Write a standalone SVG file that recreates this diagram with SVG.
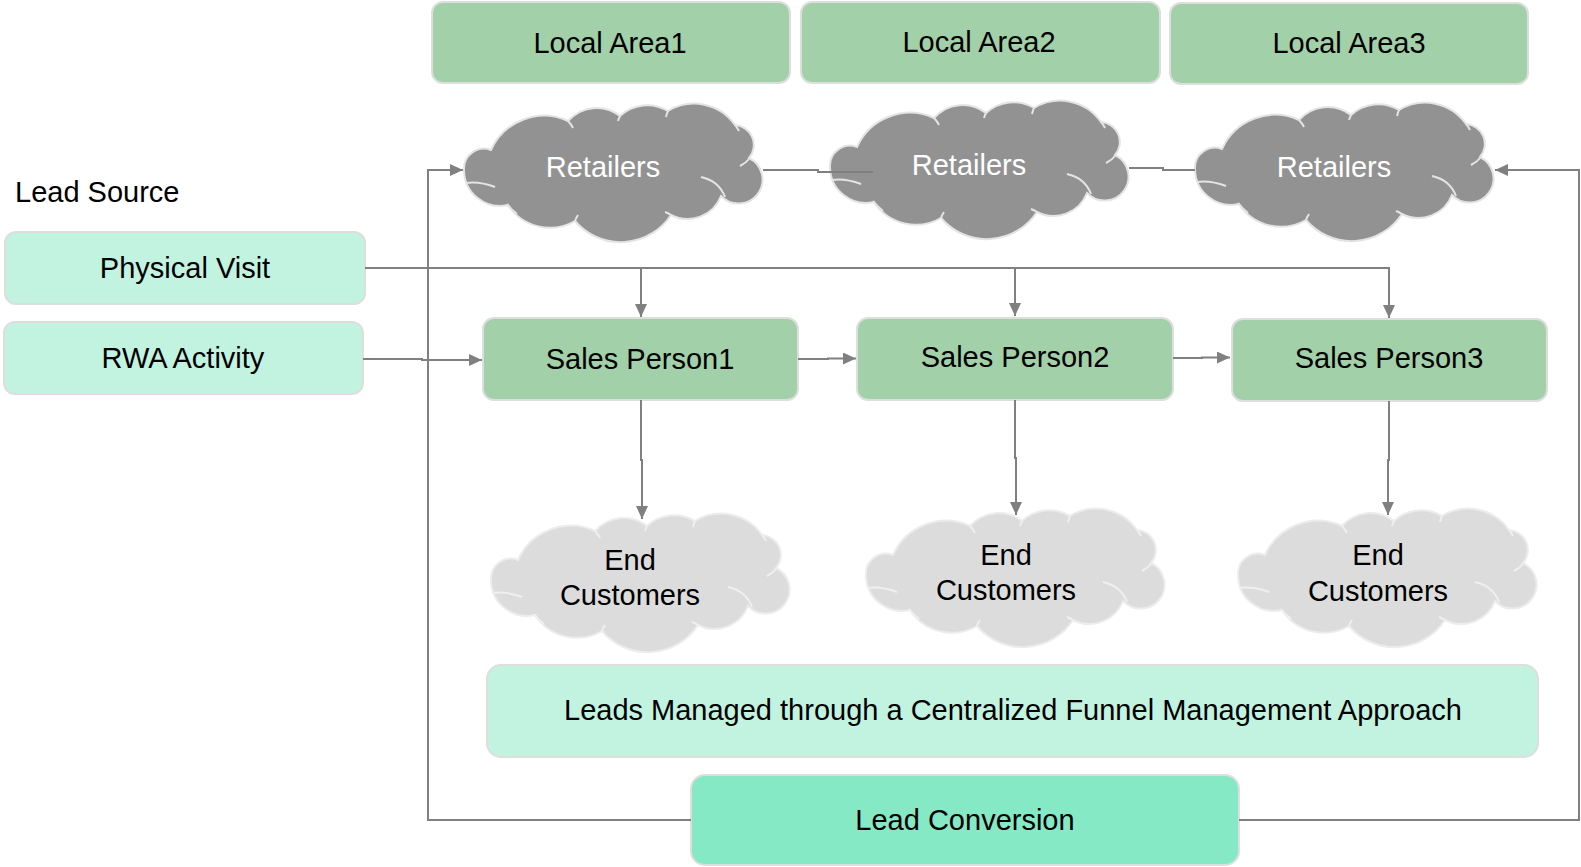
<svg xmlns="http://www.w3.org/2000/svg" width="1581" height="867" viewBox="0 0 1581 867">
<style>
text{font-family:"Liberation Sans",Arial,sans-serif;font-size:29px;fill:#000}
.mid{text-anchor:middle}
.box{stroke:#dedede;stroke-width:2}
.green{fill:#a2d0a9}
.mint{fill:#c2f3e1}
.conv{fill:#86e9c6}
.cd{fill:#929292;stroke:#e4e4e4;stroke-width:2}
.cdi{fill:none;stroke:#e4e4e4;stroke-width:2}
.cl{fill:#dcdcdc;stroke:#ececec;stroke-width:2}
.cli{fill:none;stroke:#efefef;stroke-width:2}
.wt{fill:#fff}
.conn path{fill:none;stroke:#808080;stroke-width:2}
.arrow{marker-end:url(#arr)}
</style>
<defs>
<marker id="arr" markerUnits="userSpaceOnUse" markerWidth="13" markerHeight="12" refX="13" refY="6" orient="auto"><path d="M0,0 L13,6 L0,12 z" fill="#808080"/></marker>
<path id="cloud" d="M1,67 A20,20 0 0 1 28,47 A58,58 0 0 1 105,18 A38,38 0 0 1 157,13 A40,40 0 0 1 205,8 A50,50 0 0 1 272,22 A20,20 0 0 1 286,55 A24,24 0 1 1 258,93 A36,36 0 0 1 208,112 A60,60 0 0 1 112,118 A50,50 0 0 1 45,102 A36,36 0 0 1 1,67 Z"/>
<path id="cloudIn" d="M3,80 Q16,78 32,84 M44,101 Q48,106 54,111 M105,18 Q108,21 110,25 M157,13 Q156,15 155,18 M205,8 Q204,10 203,14 M272,22 Q274,24 276,28 M286,56 Q283,60 277,63 M238,74 Q256,78 262,94 M208,112 Q205,110 202,109 M112,118 Q113,115 115,112"/>
</defs>

<g id="local-area1"><rect class="box green" x="432" y="2" width="358" height="81" rx="11"/><text class="mid" x="610" y="53">Local Area1</text></g>
<g id="local-area2"><rect class="box green" x="801" y="2" width="359" height="81" rx="11"/><text class="mid" x="979" y="52">Local Area2</text></g>
<g id="local-area3"><rect class="box green" x="1170" y="3" width="358" height="81" rx="11"/><text class="mid" x="1349" y="53">Local Area3</text></g>

<g id="retailers1" transform="translate(463,103)"><use href="#cloud" class="cd"/><use href="#cloudIn" class="cdi"/><text class="mid wt" x="140" y="74">Retailers</text></g>
<g id="retailers2" transform="translate(829,100)"><use href="#cloud" class="cd"/><use href="#cloudIn" class="cdi"/><text class="mid wt" x="140" y="75">Retailers</text></g>
<g id="retailers3" transform="translate(1194,102)"><use href="#cloud" class="cd"/><use href="#cloudIn" class="cdi"/><text class="mid wt" x="140" y="75">Retailers</text></g>

<g id="lead-source"><text x="15" y="202">Lead Source</text></g>
<g id="physical-visit"><rect class="box mint" x="5" y="232" width="360" height="72" rx="11"/><text class="mid" x="185" y="278">Physical Visit</text></g>
<g id="rwa-activity"><rect class="box mint" x="4" y="322" width="359" height="72" rx="11"/><text class="mid" x="183" y="368">RWA Activity</text></g>

<g id="sales-person1"><rect class="box green" x="483" y="318" width="315" height="82" rx="11"/><text class="mid" x="640" y="369">Sales Person1</text></g>
<g id="sales-person2"><rect class="box green" x="857" y="318" width="316" height="82" rx="11"/><text class="mid" x="1015" y="367">Sales Person2</text></g>
<g id="sales-person3"><rect class="box green" x="1232" y="319" width="315" height="82" rx="11"/><text class="mid" x="1389" y="368">Sales Person3</text></g>

<g id="end-customers1" transform="translate(490,513)"><use href="#cloud" class="cl"/><use href="#cloudIn" class="cli"/><text class="mid" x="140" y="57">End</text><text class="mid" x="140" y="92">Customers</text></g>
<g id="end-customers2" transform="translate(865,508)"><use href="#cloud" class="cl"/><use href="#cloudIn" class="cli"/><text class="mid" x="141" y="57">End</text><text class="mid" x="141" y="92">Customers</text></g>
<g id="end-customers3" transform="translate(1237,508)"><use href="#cloud" class="cl"/><use href="#cloudIn" class="cli"/><text class="mid" x="141" y="57">End</text><text class="mid" x="141" y="93">Customers</text></g>

<g id="leads-managed"><rect class="box mint" x="487" y="665" width="1051" height="92" rx="14"/><text class="mid" x="1013" y="720">Leads Managed through a Centralized Funnel Management Approach</text></g>
<g id="lead-conversion"><rect class="box conv" x="691" y="775" width="548" height="90" rx="14"/><text class="mid" x="965" y="830">Lead Conversion</text></g>

<g id="connectors" class="conn">
<path class="arrow" d="M365,268 H641 V317"/>
<path class="arrow" d="M365,268 H1015 V316"/>
<path class="arrow" d="M365,268 H1389 V318"/>
<path class="arrow" d="M363,359 H422 V360 H482"/>
<path class="arrow" d="M798,359 H828 V358.5 H856"/>
<path class="arrow" d="M1173,358 H1202 V357.5 H1230"/>
<path class="arrow" d="M641,400 V460 H642 V519"/>
<path class="arrow" d="M1015,400 V458 H1016 V515"/>
<path class="arrow" d="M1389,401 V460 H1388 V515"/>
<path d="M763,170 H818 V172 H873"/>
<path d="M1129,168 H1163 V170 H1195"/>
<path class="arrow" d="M691,820 H428 V170 H463"/>
<path class="arrow" d="M1239,820 H1579 V170 H1495"/>
</g>
</svg>
